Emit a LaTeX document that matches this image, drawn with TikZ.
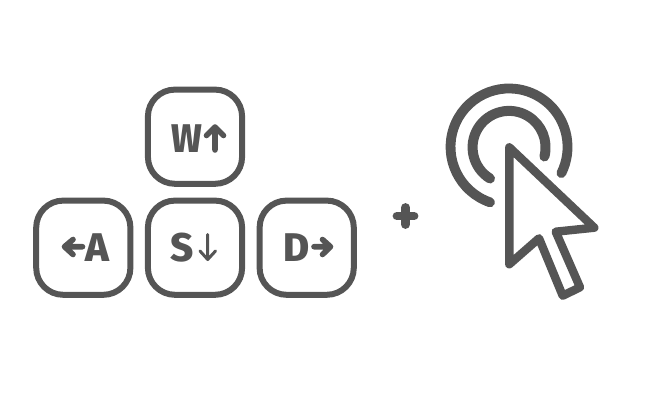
\documentclass[tikz,border=0pt]{standalone}
\usepackage{fontspec}
\setmainfont{Fira Sans}[BoldFont={Fira Sans ExtraBold}]
\definecolor{ink}{HTML}{555555}
\tikzset{
  keycap/.style={draw=ink,line width=6pt,rounded corners=27pt,minimum width=94.2pt,minimum height=94.2pt,inner sep=0pt,outer sep=0pt},
  letter/.style={text=ink,font=\fontsize{40}{40}\selectfont\bfseries,inner sep=0pt,anchor=base},
  boldarrow/.style={draw=ink,line width=5.6pt,line cap=round,line join=round},
  thinarrow/.style={draw=ink,line width=3pt,line cap=round,line join=round},
  ring/.style={draw=ink,line cap=round},
  pointer/.style={draw=ink,line width=8.4pt,line join=round}
}
\begin{document}
\begin{tikzpicture}[x=1pt,y=1pt,yscale=-1]
\useasboundingbox (0,0) rectangle (652,401);
\node[keycap] (keyw) at (195,136.7) {};
\node[keycap] (keya) at (83.3,247.7) {};
\node[keycap] (keys) at (195,247.7) {};
\node[keycap] (keyd) at (306.7,247.7) {};
\node[letter,xscale=0.9] (lw) at (186.5,152.3) {W};
\node[letter] (la) at (97,261) {A};
\node[letter] (ls) at (182,261) {S};
\node[letter] (ld) at (297,261) {D};
% key arrows
\draw[boldarrow] (215,150) -- (215,127.5) (206.5,135.5) -- (215,127) -- (223.5,135.5);
\draw[thinarrow] (207.7,234.5) -- (207.7,259) (200,251) -- (207.7,259.5) -- (215.5,251);
\draw[boldarrow] (82.5,246.7) -- (65,246.7) (73,239.5) -- (64.5,246.7) -- (73,254.5);
\draw[boldarrow] (314,246.7) -- (330,246.7) (322.5,239.5) -- (330.5,246.7) -- (322.5,254.5);
% plus
\draw[draw=ink,line width=8.6pt,line cap=round] (396.9,216) -- (414.1,216) (405.5,207.4) -- (405.5,224.6);
% rings
\draw[ring,line width=9.8pt] (490,202.3) arc[start angle=109,end angle=386.5,radius=58.5];
\draw[ring,line width=10pt] (490,178.5) arc[start angle=121.5,end angle=374.4,radius=36.5];
% pointer
\draw[pointer] (509.3,147.3) -- (594.3,227.7) -- (555.7,231.7) -- (580,287.3) -- (562.7,295.7) -- (539,238.3) -- (509.3,264.3) -- cycle;
\end{tikzpicture}
\end{document}
